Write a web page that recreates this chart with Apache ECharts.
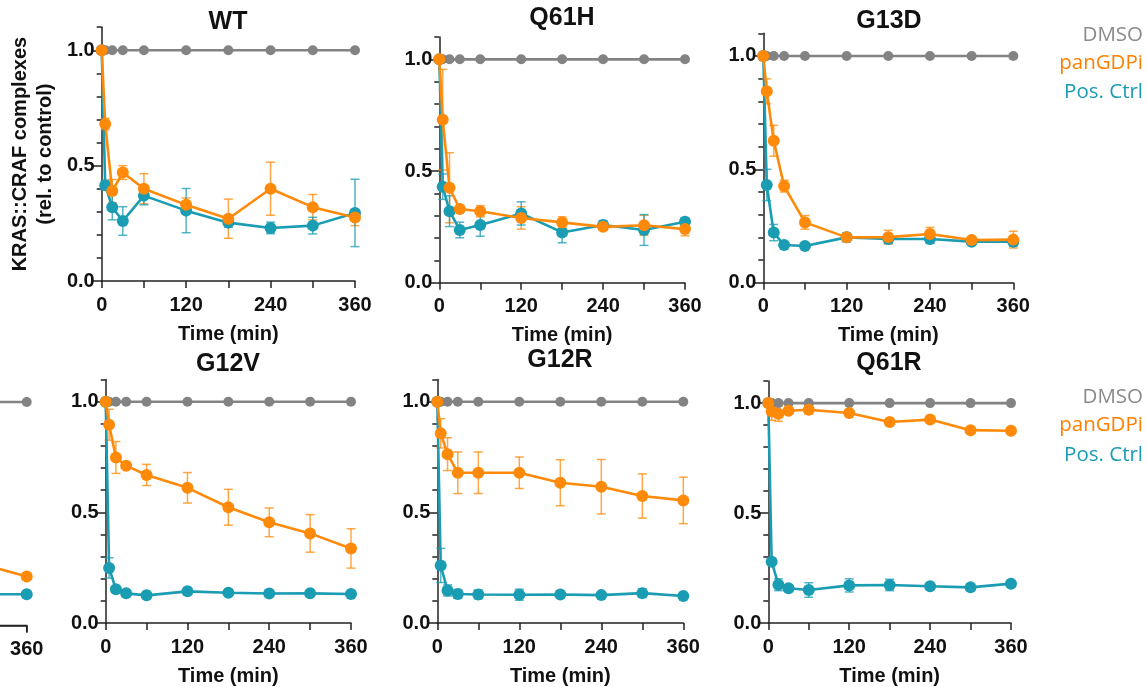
<!DOCTYPE html>
<html>
<head>
<meta charset="utf-8">
<title>KRAS::CRAF complexes</title>
<script src="https://cdn.jsdelivr.net/npm/echarts@6/dist/echarts.min.js"></script>
<style>
  html, body { margin: 0; padding: 0; background: #fff; }
  #chart { width: 1147px; height: 687px; }
</style>
</head>
<body>
<div id="chart"></div>
<script>
// time points (min)
const times = [0, 5, 15, 30, 60, 120, 180, 240, 300, 360];
const dmso = [1, 1, 1, 1, 1, 1, 1, 1, 1, 1];

const wtPan = [1.0, 0.68, 0.39, 0.47, 0.40, 0.33, 0.27, 0.40, 0.32, 0.275];
const wtPanErr = [0, 0.025, 0.05, 0.03, 0.065, 0.03, 0.085, 0.115, 0.055, 0.035];
const wtPos = [1.0, 0.415, 0.32, 0.26, 0.37, 0.305, 0.253, 0.23, 0.24, 0.295];
const wtPosErr = [0, 0.02, 0.055, 0.062, 0.04, 0.096, 0.02, 0.025, 0.036, 0.146];

const q61hPan = [1.0, 0.73, 0.425, 0.33, 0.32, 0.29, 0.27, 0.25, 0.257, 0.24];
const q61hPanErr = [0, 0.225, 0.157, 0.015, 0.025, 0.05, 0.025, 0.015, 0.045, 0.03];
const q61hPos = [1.0, 0.43, 0.32, 0.236, 0.258, 0.31, 0.225, 0.258, 0.236, 0.273];
const q61hPosErr = [0, 0.057, 0.069, 0.035, 0.05, 0.052, 0.046, 0.02, 0.069, 0.015];

const g13dPan = [1.0, 0.844, 0.626, 0.426, 0.266, 0.2, 0.201, 0.215, 0.188, 0.19];
const g13dPanErr = [0, 0.055, 0.068, 0.026, 0.03, 0.015, 0.03, 0.029, 0.01, 0.037];
const g13dPos = [1.0, 0.431, 0.221, 0.166, 0.162, 0.2, 0.193, 0.193, 0.181, 0.181];
const g13dPosErr = [0, 0.069, 0.036, 0.01, 0.01, 0.02, 0.02, 0.02, 0.01, 0.02];

// panel cut off at the left edge, only its last points are visible
const partTimes = [300, 360];
const partDmso = [1, 1];
const partPan = [0.27, 0.22];
const partPos = [0.14, 0.14];

const g12vPan = [1.0, 0.896, 0.748, 0.711, 0.669, 0.611, 0.523, 0.455, 0.405, 0.337];
const g12vPanErr = [0, 0.07, 0.072, 0.01, 0.048, 0.069, 0.081, 0.065, 0.085, 0.089];
const g12vPos = [1.0, 0.249, 0.152, 0.134, 0.125, 0.143, 0.137, 0.133, 0.134, 0.131];
const g12vPosErr = [0, 0.046, 0.01, 0.01, 0.01, 0.01, 0.01, 0.01, 0.01, 0.01];

const g12rPan = [1.0, 0.857, 0.763, 0.679, 0.679, 0.679, 0.634, 0.616, 0.574, 0.554];
const g12rPanErr = [0, 0.066, 0.074, 0.094, 0.094, 0.071, 0.104, 0.123, 0.1, 0.105];
const g12rPos = [1.0, 0.26, 0.147, 0.131, 0.129, 0.128, 0.129, 0.126, 0.135, 0.122];
const g12rPosErr = [0, 0.077, 0.025, 0.02, 0.02, 0.025, 0.01, 0.01, 0.02, 0.005];

const q61rPan = [1.0, 0.962, 0.952, 0.965, 0.97, 0.955, 0.914, 0.925, 0.877, 0.874];
const q61rPanErr = [0, 0.04, 0.035, 0.01, 0.02, 0.01, 0.01, 0.01, 0.01, 0.01];
const q61rPos = [1.0, 0.279, 0.174, 0.158, 0.15, 0.171, 0.173, 0.167, 0.162, 0.179];
const q61rPosErr = [0, 0.01, 0.027, 0.01, 0.033, 0.03, 0.026, 0.01, 0.01, 0.01];

const xLabelValues = [0, 120, 240, 360];
const partXValues = [360];
const yLabelValues = [0, 0.5, 1.0];
const legendNames = ['DMSO', 'panGDPi', 'Pos. Ctrl'];

const GRAY = '#838383';
const ORANGE = '#ff8a0a';
const TEAL = '#1a9cb3';
const legendColors = ['#8a8a8a', '#ff8000', '#1a9bb5'];
const FONT = '"Liberation Sans", Arial, sans-serif';

const PART_MIN = 320.8;
const panels = [
  { title: 'WT', t: times, dmso: dmso, pan: wtPan, panErr: wtPanErr, pos: wtPos, posErr: wtPosErr,
    grid: { left: 101.7, top: 27.2, width: 253.3, height: 253.8 }, tx: 228, ty: 22, yName: true },
  { title: 'Q61H', t: times, dmso: dmso, pan: q61hPan, panErr: q61hPanErr, pos: q61hPos, posErr: q61hPosErr,
    grid: { left: 439.3, top: 37, width: 245.7, height: 245.7 }, tx: 562, ty: 18 },
  { title: 'G13D', t: times, dmso: dmso, pan: g13dPan, panErr: g13dPanErr, pos: g13dPos, posErr: g13dPosErr,
    grid: { left: 763.3, top: 33.3, width: 250, height: 249.4 }, tx: 889, ty: 21 },
  // only the right end (x from ~321 to 360 min) of this panel is on the page
  { title: null, partial: true, t: partTimes, dmso: partDmso, pan: partPan, panErr: null, pos: partPos, posErr: null,
    grid: { left: 0, top: 379.6, width: 26.7, height: 246 } },
  { title: 'G12V', t: times, dmso: dmso, pan: g12vPan, panErr: g12vPanErr, pos: g12vPos, posErr: g12vPosErr,
    grid: { left: 105.7, top: 379.6, width: 245.3, height: 246 }, tx: 228, ty: 364 },
  { title: 'G12R', t: times, dmso: dmso, pan: g12rPan, panErr: g12rPanErr, pos: g12rPos, posErr: g12rPosErr,
    grid: { left: 437.3, top: 379.6, width: 246, height: 246.4 }, tx: 560, ty: 360 },
  { title: 'Q61R', t: times, dmso: dmso, pan: q61rPan, panErr: q61rPanErr, pos: q61rPos, posErr: q61rPosErr,
    grid: { left: 768.3, top: 381.1, width: 242.7, height: 244.2 }, tx: 889, ty: 363.5 }
];

function pairs(t, v) {
  return t.map((x, i) => [x, v[i]]);
}

function errData(t, v, e) {
  const out = [];
  if (!e) return out;
  t.forEach((x, i) => {
    if (e[i] > 0) out.push([x, v[i] - e[i], v[i] + e[i]]);
  });
  return out;
}

function renderErr(params, api) {
  const x = api.value(0);
  const lo = api.coord([x, api.value(1)]);
  const hi = api.coord([x, api.value(2)]);
  const w = 4.5;
  const style = { stroke: api.visual('color'), lineWidth: 1.5, opacity: 0.75 };
  return {
    type: 'group',
    children: [
      { type: 'line', shape: { x1: hi[0], y1: hi[1], x2: lo[0], y2: lo[1] }, style: style },
      { type: 'line', shape: { x1: hi[0] - w, y1: hi[1], x2: hi[0] + w, y2: hi[1] }, style: style },
      { type: 'line', shape: { x1: lo[0] - w, y1: lo[1], x2: lo[0] + w, y2: lo[1] }, style: style }
    ]
  };
}

const grids = [];
const xAxes = [];
const yAxes = [];
const series = [];
const graphics = [];

const axisColor = '#222';
const labelStyle = { color: '#111', fontSize: 20, fontWeight: 'bold', fontFamily: FONT };

panels.forEach((p, i) => {
  grids.push(Object.assign({}, p.grid));
  if (p.partial) {
    xAxes.push({
      gridIndex: i, type: 'value', min: PART_MIN, max: 360,
      axisLine: { show: true, onZero: false, lineStyle: { color: axisColor, width: 1.5 } },
      axisTick: { customValues: partXValues, length: 7, lineStyle: { color: axisColor, width: 1.5 } },
      axisLabel: Object.assign({ customValues: partXValues, margin: 14 }, labelStyle),
      splitLine: { show: false }
    });
    yAxes.push({ gridIndex: i, type: 'value', min: 0, max: 1.1, show: false });
    yAxes.push({ gridIndex: i, type: 'value', min: 0, max: 1.1, show: false });
  } else {
    xAxes.push({
      gridIndex: i, type: 'value', min: 0, max: 360, interval: 60,
      axisLine: { onZero: false, lineStyle: { color: axisColor, width: 1.5 } },
      axisTick: { length: 7, lineStyle: { color: axisColor, width: 1.5 } },
      axisLabel: Object.assign({ customValues: xLabelValues, margin: 14 }, labelStyle),
      splitLine: { show: false },
      name: 'Time (min)', nameLocation: 'middle', nameGap: 43,
      nameTextStyle: labelStyle
    });
    yAxes.push({
      gridIndex: i, type: 'value', position: 'left', min: 0, max: 1.1, interval: 0.1,
      axisLine: { onZero: false, lineStyle: { color: axisColor, width: 1.5 } },
      axisTick: { length: 5, lineStyle: { color: axisColor, width: 1.5 } },
      axisLabel: Object.assign({ customValues: yLabelValues, margin: 7, formatter: v => v.toFixed(1) }, labelStyle),
      splitLine: { show: false },
      name: p.yName ? 'KRAS::CRAF complexes\n(rel. to control)' : '',
      nameLocation: 'middle', nameGap: 44, nameRotate: 90,
      nameTextStyle: { color: '#111', fontSize: 20, fontWeight: 'bold', fontFamily: FONT, lineHeight: 25 }
    });
    // longer ticks at 0, 0.5, 1.0
    yAxes.push({
      gridIndex: i, type: 'value', position: 'left', min: 0, max: 1.1,
      axisLine: { show: false, onZero: false },
      axisTick: { show: true, customValues: yLabelValues, length: 9, lineStyle: { color: axisColor, width: 1.5 } },
      axisLabel: { show: false },
      splitLine: { show: false }
    });
  }
  const yi = i * 2;
  series.push({
    type: 'custom', name: 'panGDPi', xAxisIndex: i, yAxisIndex: yi, z: 1,
    itemStyle: { color: ORANGE }, renderItem: renderErr,
    encode: { x: 0, y: [1, 2] }, data: errData(p.t, p.pan, p.panErr)
  });
  series.push({
    type: 'custom', name: 'Pos. Ctrl', xAxisIndex: i, yAxisIndex: yi, z: 1,
    itemStyle: { color: TEAL }, renderItem: renderErr,
    encode: { x: 0, y: [1, 2] }, data: errData(p.t, p.pos, p.posErr)
  });
  series.push({
    type: 'line', name: 'DMSO', xAxisIndex: i, yAxisIndex: yi, z: 2,
    symbol: 'circle', symbolSize: 10, color: GRAY,
    lineStyle: { width: 2.6, color: GRAY }, itemStyle: { color: GRAY },
    data: pairs(p.t, p.dmso)
  });
  series.push({
    type: 'line', name: 'Pos. Ctrl', xAxisIndex: i, yAxisIndex: yi, z: 3,
    symbol: 'circle', symbolSize: 12, color: TEAL,
    lineStyle: { width: 2.6, color: TEAL }, itemStyle: { color: TEAL },
    data: pairs(p.t, p.pos)
  });
  series.push({
    type: 'line', name: 'panGDPi', xAxisIndex: i, yAxisIndex: yi, z: 4,
    symbol: 'circle', symbolSize: 12, color: ORANGE,
    lineStyle: { width: 2.6, color: ORANGE }, itemStyle: { color: ORANGE },
    data: pairs(p.t, p.pan)
  });
  if (p.title) {
    graphics.push({
      type: 'text', x: p.tx, y: p.ty,
      style: { text: p.title, fill: '#111', font: 'bold 25px ' + FONT, textAlign: 'center', textVerticalAlign: 'middle' }
    });
  }
});

// legend text, one block per row
[[35, 63.5, 92.5], [397, 425, 455]].forEach(rowY => {
  legendNames.forEach((name, k) => {
    graphics.push({
      type: 'text', x: 1143, y: rowY[k],
      style: { text: name, fill: legendColors[k], font: '20.5px "Open Sans", "Noto Sans", sans-serif', textAlign: 'right', textVerticalAlign: 'middle' }
    });
  });
});

const chart = echarts.init(document.getElementById('chart'));
chart.setOption({
  animation: false,
  backgroundColor: '#fff',
  grid: grids,
  xAxis: xAxes,
  yAxis: yAxes,
  series: series,
  graphic: graphics
});

// the cut-off panel's axis line does not show up on its own, so trace it from the axis scale
const partIdx = panels.findIndex(p => p.partial);
const a0 = chart.convertToPixel({ xAxisIndex: partIdx, yAxisIndex: partIdx * 2 }, [PART_MIN, 0]);
const a1 = chart.convertToPixel({ xAxisIndex: partIdx, yAxisIndex: partIdx * 2 }, [360, 0]);
chart.setOption({
  graphic: [{
    id: 'partAxis', type: 'polyline', z: 10,
    shape: { points: [a0, a1, [a1[0], a1[1] + 7]] },
    style: { stroke: axisColor, lineWidth: 1.5, fill: null }
  }]
});
</script>
</body>
</html>
